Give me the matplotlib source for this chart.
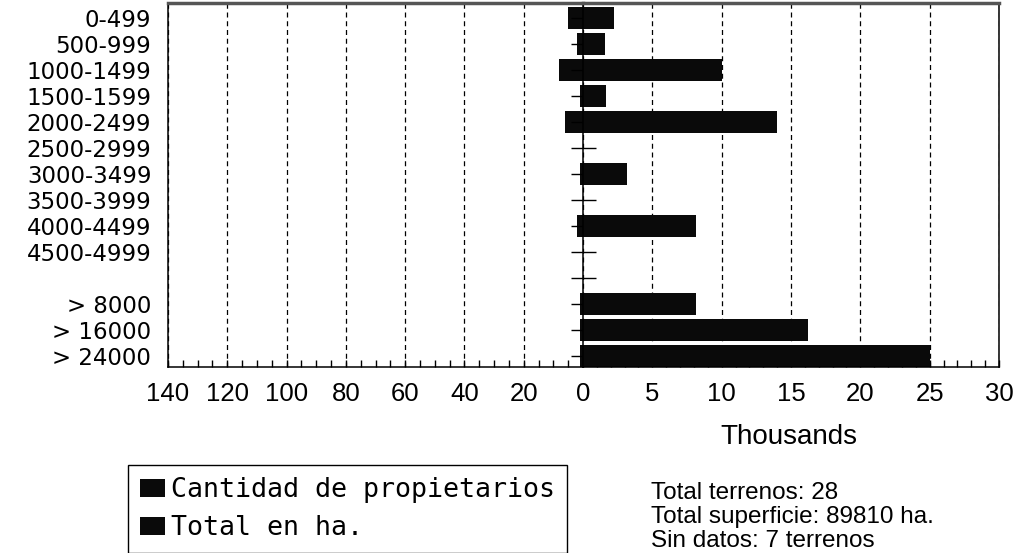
import matplotlib
matplotlib.use('Agg')
import matplotlib.pyplot as plt
from matplotlib.ticker import MultipleLocator
import numpy as np

# ---- data ----
categories = ['0-499', '500-999', '1000-1499', '1500-1599', '2000-2499',
              '2500-2999', '3000-3499', '3500-3999', '4000-4499', '4500-4999',
              '', '> 8000', '> 16000', '> 24000']
propietarios = [5, 2, 8, 1, 6, 0, 1, 0, 2, 0, 0, 1, 1, 1]
hectareas_miles = [2.2, 1.6, 10.0, 1.65, 14.0, 0, 3.2, 0, 8.15, 0, 0, 8.15, 16.2, 25.0]
left_ticks = [140, 120, 100, 80, 60, 40, 20, 0]
left_labels = ['140', '120', '100', '80', '60', '40', '20', '']
right_ticks = [0, 5, 10, 15, 20, 25, 30]
right_labels = ['0', '5', '10', '15', '20', '25', '30']
legend_labels = ['Cantidad de propietarios', 'Total en ha.']
notes = ['Total terrenos: 28', 'Total superficie: 89810 ha.', 'Sin datos: 7 terrenos']
axis_unit = 'Thousands'

W, H = 1019, 553
fig = plt.figure(figsize=(W / 100, H / 100), dpi=100)
narrow = ['Liberation Sans', 'DejaVu Sans']

x0, xm, x1 = 168, 583, 999
ytop, ybot = 3, 367
axL = fig.add_axes([x0 / W, 1 - ybot / H, (xm - x0) / W, (ybot - ytop) / H])
axR = fig.add_axes([xm / W, 1 - ybot / H, (x1 - xm) / W, (ybot - ytop) / H], sharey=axL)

y = np.arange(len(categories))
bh = 0.88
bL = axL.barh(y, propietarios, height=bh, color='#0a0a0a', zorder=2)
bR = axR.barh(y, hectareas_miles, height=bh, color='#0a0a0a', zorder=2)

axL.set_xlim(140, 0)
axR.set_xlim(0, 30)
rowpx = (355 - 18) / 13
axL.set_ylim(13 + 11 / rowpx, -15 / rowpx)

for ax in (axL, axR):
    ax.set_axisbelow(True)
    ax.grid(axis='x', which='major', linestyle=(0, (4, 3)), color='black', linewidth=0.9)
    ax.spines['top'].set_color('#555555')
    ax.spines['top'].set_linewidth(2.5)
    for s in ('bottom', 'left', 'right'):
        ax.spines[s].set_linewidth(1.1)
        ax.spines[s].set_color('black')

axL.spines['right'].set_visible(False)

axL.set_yticks(y, labels=categories)
axL.tick_params(axis='y', length=0, pad=12, labelsize=16.5, labelfontfamily='DejaVu Sans')

axR.tick_params(axis='y', which='both', left=True, right=False, labelleft=False,
                direction='inout', length=18, width=1.0)

axL.set_xticks(left_ticks, labels=left_labels)
axL.xaxis.set_minor_locator(MultipleLocator(5))
axR.set_xticks(right_ticks, labels=right_labels)
axR.xaxis.set_minor_locator(MultipleLocator(1))
for ax in (axL, axR):
    ax.tick_params(axis='x', which='both', direction='in', length=5, width=1.0,
                   top=False, bottom=True, pad=11, labelsize=18.5,
                   labelfontfamily='Liberation Sans')

fig.text(789 / W, 1 - 437 / H, axis_unit, ha='center', va='center', fontsize=20, family=narrow)

for i, line in enumerate(notes):
    fig.text(651 / W, 1 - (493 + 24 * i) / H, line, ha='left', va='center', fontsize=17.5, family=narrow)

leg = fig.legend([bL, bR], legend_labels, loc='upper left',
                 bbox_to_anchor=(128 / W, 1 - 465 / H), borderaxespad=0,
                 prop={'family': 'DejaVu Sans Mono', 'size': 19.2},
                 frameon=True, fancybox=False, framealpha=1, edgecolor='black',
                 handlelength=0.95, handleheight=0.65, handletextpad=0.2,
                 borderpad=0.45, labelspacing=0.45)
leg.get_frame().set_linewidth(1.0)

fig.savefig('out.png', dpi=100)
